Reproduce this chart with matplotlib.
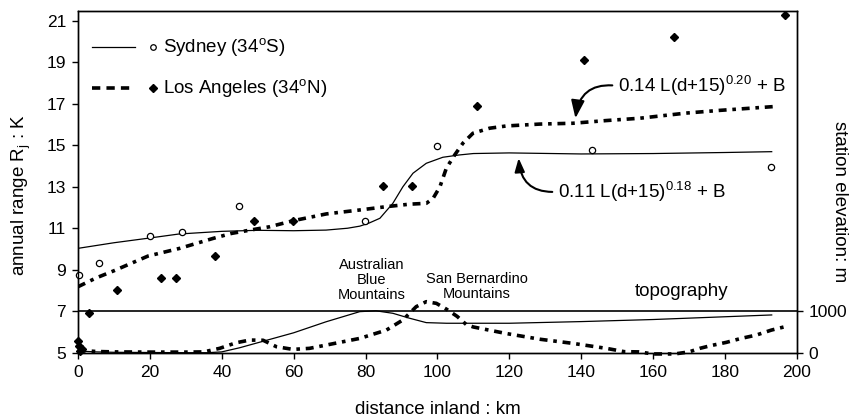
import numpy as np
import matplotlib
matplotlib.use('Agg')
import matplotlib.pyplot as plt
from matplotlib.lines import Line2D

plt.rcParams['font.family'] = ['Liberation Sans', 'DejaVu Sans']
plt.rcParams['mathtext.default'] = 'regular'

# station observations (annual range, K)
syd_x = [0.3, 5.8, 19.9, 28.9, 44.7, 79.8, 99.9, 142.9, 192.8]
syd_y = [8.74, 9.33, 10.63, 10.82, 12.07, 11.36, 14.95, 14.75, 13.95]
la_x = [0.0, 0.3, 1.0, 0.5, 3.0, 10.9, 23.2, 27.2, 38.1, 49.0, 59.9, 84.9, 93.0, 111.1, 140.7, 165.9, 196.8]
la_y = [5.55, 5.3, 5.2, 5.1, 6.92, 8.02, 8.58, 8.58, 9.67, 11.35, 11.35, 13.02, 13.02, 16.88, 19.1, 20.22, 21.27]

# fitted curves
syd_fit_x = [0, 10, 20, 28, 40, 50, 60, 69, 75, 78.4, 81, 84, 87.6, 90.4, 93.2, 96.9, 101.5, 106, 110, 120, 140, 160, 180, 193]
syd_fit_y = [10.03, 10.3, 10.53, 10.72, 10.85, 10.9, 10.88, 10.91, 11.0, 11.1, 11.25, 11.48, 12.2, 13.0, 13.65, 14.13, 14.42, 14.53, 14.6, 14.63, 14.58, 14.6, 14.65, 14.69]
la_fit_x = [0, 5, 10, 19.5, 28.3, 37.6, 42.7, 49.2, 53.3, 59.8, 69.1, 78.4, 85.8, 92.3, 96.9, 98.8, 100.7, 102.5, 104.8, 107.1, 109.9, 114.5, 119.2, 128.5, 137.7, 147, 156.2, 169.2, 178.5, 193.3]
la_fit_y = [8.18, 8.6, 8.95, 9.66, 10.03, 10.51, 10.75, 10.95, 11.07, 11.36, 11.69, 11.88, 12.04, 12.16, 12.2, 12.44, 13.0, 13.9, 14.53, 15.1, 15.58, 15.82, 15.93, 16.02, 16.06, 16.19, 16.3, 16.55, 16.68, 16.86]

# topography (m)
aus_topo_x = [0, 5, 10, 20, 30, 36, 40, 45, 50, 55, 60, 69, 78.4, 82.9, 87.6, 92.3, 96.9, 102.5, 110, 120, 140, 160, 175, 193]
aus_topo_y = [40, 20, 10, 5, 0, 0, 20, 120, 240, 360, 480, 745, 990, 1010, 950, 830, 725, 710, 710, 710, 750, 800, 850, 910]
sb_topo_x = [0, 5, 10, 20, 30, 35, 39.4, 44, 47.8, 51.5, 55.2, 59.8, 64.4, 69.1, 78.4, 85.8, 90.4, 94.1, 96.9, 99.7, 102.5, 105.5, 108, 110, 119, 128.5, 137.7, 147, 152, 156, 160, 166, 170, 173, 176, 180.4, 184.5, 188.7, 192.9, 196.6]
sb_topo_y = [60, 30, 20, 15, 15, 20, 105, 240, 305, 300, 145, 80, 105, 185, 345, 545, 790, 1110, 1230, 1190, 1050, 875, 680, 620, 465, 325, 225, 105, 25, 20, -30, -30, 20, 105, 170, 250, 345, 425, 545, 625]

xticks = list(range(0, 201, 20))
yticks = list(range(5, 22, 2))

fs = 13.5      # labels, legend, annotations
tfs = 12.5     # tick labels
fig = plt.figure(figsize=(8.55, 4.2), dpi=100)
ax = fig.add_axes([0.0912, 0.1602, 0.8408, 0.8136])
ymax = 21.47
ax.set_xlim(0, 200)
ax.set_ylim(5, ymax)

dash_pat = (0, (2.2, 1.6, 1.0, 1.6))
ax.plot(syd_fit_x, syd_fit_y, color='k', lw=0.9)
ax.plot(la_fit_x, la_fit_y, color='k', lw=2.6, linestyle=dash_pat)
ax.plot(syd_x, syd_y, 'o', mfc='white', mec='k', mew=0.9, ms=4.5, zorder=5, clip_on=False)
ax.plot(la_x, la_y, 'D', color='k', ms=4.2, zorder=5, clip_on=False)

ax2 = ax.twinx()
ax2.set_ylim(0, (ymax - 5) * 500)
ax2.plot(aus_topo_x, aus_topo_y, color='k', lw=0.9, clip_on=False)
ax2.plot(sb_topo_x, sb_topo_y, color='k', lw=2.6, linestyle=dash_pat, clip_on=False)
ax2.axhline(1000, color='k', lw=1.2)
ax2.set_yticks([0, 1000])
ax2.tick_params(axis='y', direction='out', length=4.5, labelsize=tfs, width=1, pad=4)
ax2.set_ylabel('station elevation: m', fontsize=fs, rotation=270)
ax2.yaxis.set_label_coords(1.071, 0.441)

ax.set_xticks(xticks)
ax.set_yticks(yticks)
ax.tick_params(direction='out', length=4.5, labelsize=tfs, width=1, pad=4)
ax.set_xlabel('distance inland : km', fontsize=fs)
ax.xaxis.set_label_coords(0.5, -0.14)
ax.set_ylabel(r'annual range R$_{j}$ : K', fontsize=fs)
ax.yaxis.set_label_coords(-0.062, 0.46)
for a in (ax, ax2):
    for s in a.spines.values():
        s.set_linewidth(1.0)

# legend drawn by hand
for yy, ls, lw, mk, lab in [(0.896, '-', 0.9, 'o', r'Sydney (34$^{o}$S)'),
                            (0.774, (0, (2.3, 1.7)), 2.6, 'D', r'Los Angeles (34$^{o}$N)')]:
    ax.add_line(Line2D([0.019, 0.079], [yy, yy], transform=ax.transAxes, color='k', lw=lw, linestyle=ls))
    if mk == 'o':
        ax.plot([0.105], [yy], 'o', mfc='white', mec='k', mew=0.9, ms=4, transform=ax.transAxes)
    else:
        ax.plot([0.105], [yy], 'D', color='k', ms=3.8, transform=ax.transAxes)
    ax.text(0.118, yy, lab, transform=ax.transAxes, fontsize=fs, va='center', ha='left')

ax.text(81.7, 8.5, 'Australian\nBlue\nMountains', fontsize=10.5, ha='center', va='center', linespacing=1.1)
ax.text(111, 8.19, 'San Bernardino\nMountains', fontsize=10.5, ha='center', va='center', linespacing=1.1)
ax.text(168, 7.95, 'topography', fontsize=fs, ha='center', va='center')

ax.annotate(r'0.14 L(d+15)$^{0.20}$ + B', xy=(138.4, 16.3), xytext=(150.2, 17.86),
            fontsize=fs, va='center', ha='left',
            arrowprops=dict(arrowstyle='-|>,head_length=0.8,head_width=0.3', color='k', lw=1.5,
                            connectionstyle='arc3,rad=0.5', relpos=(0, 0.5), shrinkA=2, shrinkB=0))
ax.annotate(r'0.11 L(d+15)$^{0.18}$ + B', xy=(122.6, 14.38), xytext=(133.5, 12.76),
            fontsize=fs, va='center', ha='left',
            arrowprops=dict(arrowstyle='-|>,head_length=0.6,head_width=0.22', color='k', lw=1.5,
                            connectionstyle='arc3,rad=-0.5', relpos=(0, 0.5), shrinkA=2, shrinkB=0))

fig.savefig('out.png', dpi=100)
